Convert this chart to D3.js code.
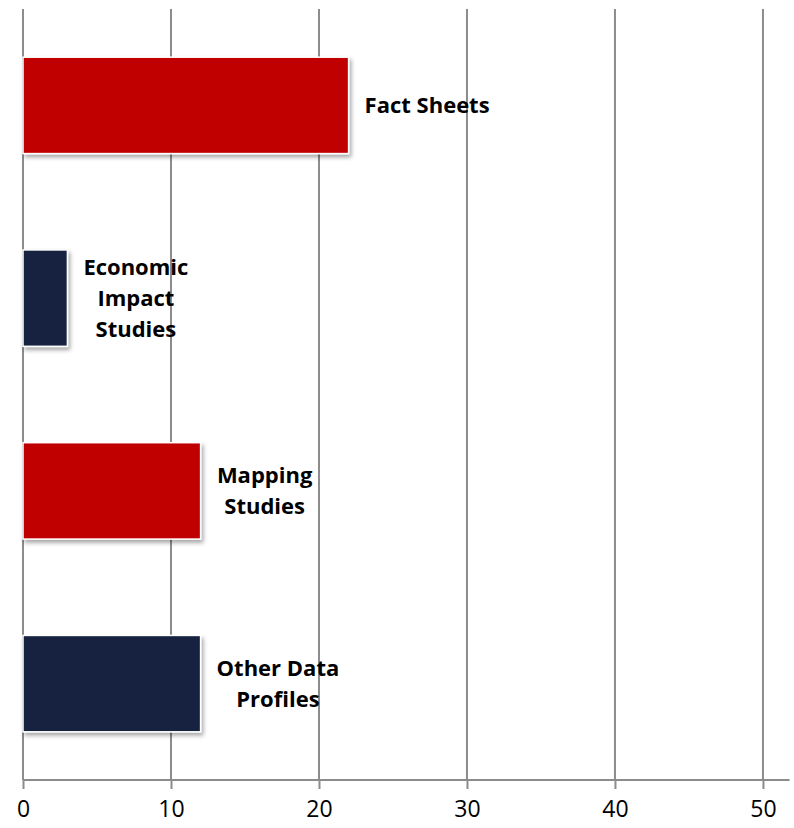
<!DOCTYPE html>
<html><head><meta charset="utf-8">
<script src="https://cdn.jsdelivr.net/npm/d3@7"></script>
<style>body{margin:0;background:#fff}svg{display:block}</style>
</head><body>
<svg id="c" width="794" height="828"></svg>
<script>
const categories = ["Fact Sheets", "Economic Impact Studies", "Mapping Studies", "Other Data Profiles"];
const labelLines = [["Fact Sheets"], ["Economic", "Impact", "Studies"], ["Mapping", "Studies"], ["Other Data", "Profiles"]];
const values = [22, 3, 12, 12];
const barColors = ["#C00000", "#12243F", "#C00000", "#12243F"];
const tickValues = [0, 10, 20, 30, 40, 50];

const svg = d3.select("#c");
const x = d3.scaleLinear().domain([0, 51.8]).range([23, 789.6]);
const y = d3.scaleBand().domain(categories).range([9, 780]).paddingInner(0.5).paddingOuter(0.25);

const defs = svg.append("defs");
const f = defs.append("filter").attr("id","sh").attr("x","-10%").attr("y","-10%").attr("width","130%").attr("height","140%");
f.append("feDropShadow").attr("dx",2).attr("dy",3).attr("stdDeviation",2.2).attr("flood-color","#000").attr("flood-opacity",0.35);

// gridlines
svg.append("g").selectAll("line").data(tickValues).join("line")
  .attr("x1", d => x(d)).attr("x2", d => x(d))
  .attr("y1", 9).attr("y2", 780)
  .attr("stroke", "#8c8c8c").attr("stroke-width", 2);

// axis
const axis = d3.axisBottom(x).tickValues(tickValues).tickSize(9).tickPadding(12).tickFormat(d3.format("d"));
const ag = svg.append("g").attr("transform","translate(0,780)").call(axis);
ag.select(".domain").attr("stroke","#8c8c8c").attr("stroke-width",2).attr("d","M"+x(0)+",0H"+x(51.8));
ag.selectAll(".tick line").attr("stroke","#8c8c8c").attr("stroke-width",2);
ag.selectAll(".tick text").attr("fill","#000").style("font-family","'Liberation Sans Narrow', 'Open Sans', sans-serif").style("font-size","23px");

// bars
svg.append("g").selectAll("rect").data(categories).join("rect")
  .attr("x", x(0)).attr("y", d => y(d))
  .attr("width", (d,i) => x(values[i]) - x(0))
  .attr("height", y.bandwidth())
  .attr("fill", (d,i) => barColors[i])
  .attr("stroke", "#fff").attr("stroke-width", 1.5)
  .attr("filter", "url(#sh)");

// labels
const lh = 31;
categories.forEach((c, i) => {
  const lines = labelLines[i];
  const g = svg.append("g");
  const t = g.append("text")
    .style("font-family","'Open Sans', sans-serif").style("font-weight","bold").style("font-size","22px")
    .attr("fill","#000").attr("text-anchor","middle");
  const cy = y(c) + y.bandwidth()/2;
  const y0 = cy - (lines.length - 1) * lh / 2;
  lines.forEach((l, k) => {
    t.append("tspan").attr("x", 0).attr("y", y0 + k*lh).attr("dy","0.35em").text(l);
  });
  const w = t.node().getBBox().width;
  t.attr("transform", `translate(${x(values[i]) + 16 + w/2},0)`);
});
</script>
</body></html>
